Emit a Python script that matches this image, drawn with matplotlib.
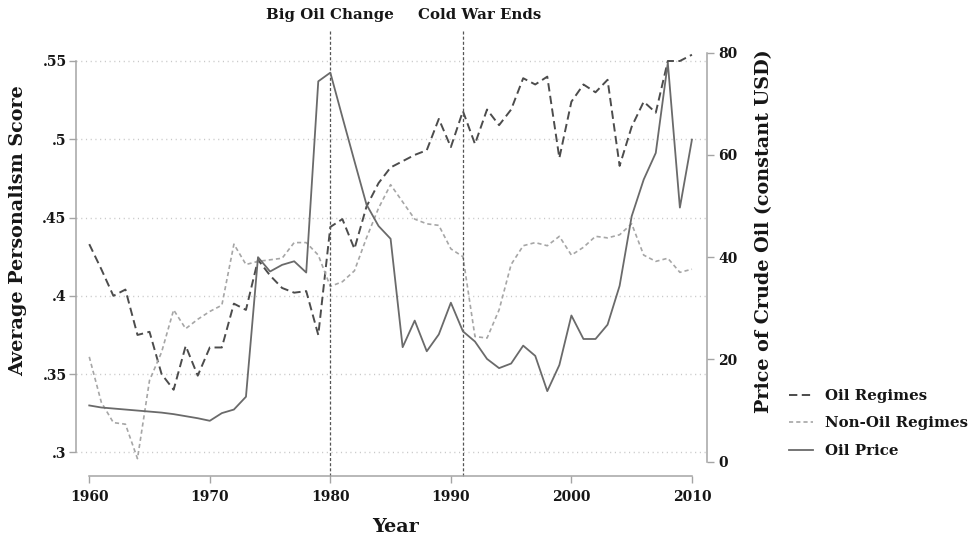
import numpy as np
import matplotlib
matplotlib.use("Agg")
import matplotlib.pyplot as plt
from matplotlib import transforms

years = np.arange(1960, 2011)

oil_regimes = [0.433, 0.417, 0.400, 0.404, 0.375, 0.377, 0.350, 0.340, 0.368, 0.349,
               0.367, 0.367, 0.395, 0.391, 0.423, 0.413, 0.405, 0.402, 0.403, 0.375,
               0.444, 0.449, 0.430, 0.457, 0.472, 0.482, 0.486, 0.490, 0.493, 0.513,
               0.495, 0.518, 0.497, 0.519, 0.509, 0.519, 0.539, 0.535, 0.540, 0.488,
               0.524, 0.535, 0.530, 0.538, 0.483, 0.508, 0.524, 0.517, 0.550, 0.550,
               0.554]

non_oil_regimes = [0.361, 0.332, 0.319, 0.318, 0.296, 0.346, 0.364, 0.391, 0.379, 0.385,
                   0.390, 0.394, 0.433, 0.420, 0.422, 0.423, 0.424, 0.434, 0.434, 0.426,
                   0.406, 0.409, 0.416, 0.437, 0.456, 0.471, 0.460, 0.449, 0.446, 0.445,
                   0.430, 0.425, 0.374, 0.373, 0.391, 0.420, 0.432, 0.434, 0.432, 0.438,
                   0.426, 0.431, 0.438, 0.437, 0.439, 0.446, 0.426, 0.422, 0.424, 0.415,
                   0.417]

oil_price = [11.0, 10.6, 10.4, 10.2, 10.0, 9.8, 9.6, 9.3, 8.9, 8.5,
             8.0, 9.5, 10.2, 12.7, 40.0, 37.2, 38.5, 39.2, 37.0, 74.4,
             76.1, 67.4, 58.8, 50.3, 46.1, 43.6, 22.4, 27.6, 21.6, 24.9,
             31.1, 25.5, 23.5, 20.1, 18.3, 19.2, 22.7, 20.7, 13.8, 18.9,
             28.6, 24.0, 24.0, 26.8, 34.4, 48.0, 55.2, 60.4, 78.0, 49.7,
             63.0]

left_ticks = [0.3, 0.35, 0.4, 0.45, 0.5, 0.55]
left_ticklabels = ['.3', '.35', '.4', '.45', '.5', '.55']
right_ticks = [0, 20, 40, 60, 80]
x_ticks = [1960, 1970, 1980, 1990, 2000, 2010]
events = [(1980, 'Big Oil Change', 1980), (1991, 'Cold War Ends', 1992.4)]

plt.rcParams['font.family'] = 'DejaVu Serif'
plt.rcParams['font.weight'] = 'bold'
plt.rcParams['lines.scale_dashes'] = False

W, H = 972, 541
fig = plt.figure(figsize=(W / 100, H / 100), dpi=100)
L, R, T, B = 76, 707, 30, 476
ax = fig.add_axes([L / W, 1 - B / H, (R - L) / W, (B - T) / H])
ax2 = ax.twinx()

axis_col = '#a4a4a4'
txt_col = '#161616'

ax.set_xlim(1958.9, 2011.25)
ax.set_ylim(0.2849, 0.5698)
ax2.set_ylim(-2.8, 84.44)

l1, = ax.plot(years, oil_regimes, color='#4c4c4c', lw=1.4, dashes=(6, 3.2), label='Oil Regimes')
l2, = ax.plot(years, non_oil_regimes, color='#a6a6a6', lw=1.2, dashes=(3, 2.2), label='Non-Oil Regimes')
l3, = ax2.plot(years, oil_price, color='#6a6a6a', lw=1.3, label='Oil Price')

for xv, label, xt in events:
    ax.axvline(xv, ymin=0, ymax=1, color='#555555', lw=0.9, dashes=(2.2, 1.5), clip_on=False)
    tr = transforms.blended_transform_factory(ax.transData, ax.transAxes)
    ax.text(xt, 1.034, label, transform=tr, ha='center', va='center',
            fontsize=10.8, color=txt_col, fontweight='bold')

# grid
for yv in left_ticks:
    ax.axhline(yv, color='#c8c8c8', lw=1.0, dashes=(0.8, 2.6), zorder=0)

# spines (stata style)
ax.spines['top'].set_visible(False)
ax.spines['right'].set_visible(False)
ax.spines['left'].set_bounds(0.3, 0.55)
ax.spines['bottom'].set_bounds(1960, 2010)
for s in ['left', 'bottom']:
    ax.spines[s].set_color(axis_col)
    ax.spines[s].set_linewidth(1.1)
for s in ['top', 'left', 'bottom']:
    ax2.spines[s].set_visible(False)
ax2.spines['right'].set_bounds(0, 80)
ax2.spines['right'].set_color(axis_col)
ax2.spines['right'].set_linewidth(1.1)

ax.set_xticks(x_ticks)
ax.set_xticklabels([str(v) for v in x_ticks])
ax.set_yticks(left_ticks)
ax.set_yticklabels(left_ticklabels)
ax2.set_yticks(right_ticks)
ax.tick_params(axis='x', length=4.8, width=1, color=axis_col, pad=5, labelsize=10, labelcolor=txt_col)
ax.tick_params(axis='y', length=4.8, width=1, color=axis_col, pad=2, labelsize=10, labelcolor=txt_col)
ax2.tick_params(axis='y', length=4.8, width=1, color=axis_col, pad=3.5, labelsize=10, labelcolor=txt_col)

fig.text(18.5 / W, 1 - 231 / H, 'Average Personalism Score', rotation=90, ha='center', va='center',
         fontsize=13.8, fontweight='bold', color=txt_col)
fig.text(764 / W, 1 - 231 / H, 'Price of Crude Oil (constant USD)', rotation=90, ha='center', va='center',
         fontsize=13.8, fontweight='bold', color=txt_col)
fig.text(396 / W, 1 - 527 / H, 'Year', ha='center', va='center',
         fontsize=13.8, fontweight='bold', color=txt_col)

leg = fig.legend([l1, l2, l3], ['Oil Regimes', 'Non-Oil Regimes', 'Oil Price'],
                 loc='upper left', bbox_to_anchor=(789 / W, 1 - 389 / H), frameon=False,
                 fontsize=10.8, handlelength=1.6, handletextpad=0.8, labelspacing=0.9,
                 borderpad=0, borderaxespad=0)
for t in leg.get_texts():
    t.set_color(txt_col)

fig.savefig('out.png', dpi=100)
